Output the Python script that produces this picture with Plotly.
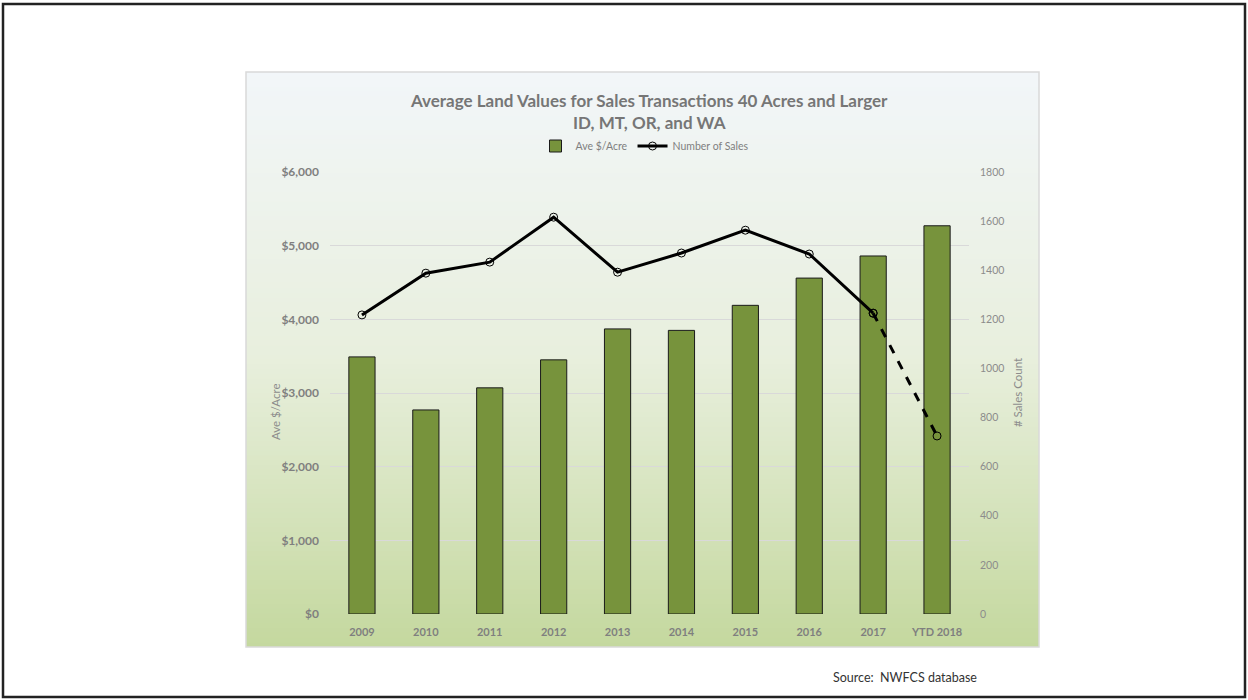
import plotly.graph_objects as go

# ---- data -------------------------------------------------------------
years = ["2009", "2010", "2011", "2012", "2013", "2014", "2015", "2016", "2017", "YTD 2018"]
ave_per_acre = [3490, 2770, 3070, 3450, 3870, 3850, 4190, 4560, 4860, 5270]
number_of_sales = [1218, 1388, 1433, 1616, 1392, 1470, 1563, 1466, 1225, 725]

left_ticks = [0, 1000, 2000, 3000, 4000, 5000, 6000]
left_tick_text = ["$0", "$1,000", "$2,000", "$3,000", "$4,000", "$5,000", "$6,000"]
right_ticks = list(range(0, 1801, 200))

# ---- page geometry (pixels) ---------------------------------------------
W, H = 1248, 700
PL, PR, PT, PB = 330, 969, 172, 614  # plot area edges


def px(x):
    return (x - PL) / (PR - PL)


def py(y):
    return (PB - y) / (PB - PT)


FONT = "Lato, 'Open Sans', sans-serif"
GREY = "#7f7f7f"

fig = go.Figure()

fig.add_trace(go.Bar(
    x=years, y=ave_per_acre, name="Ave $/Acre",
    marker=dict(color="#77933c", line=dict(color="#1a1a1a", width=1)),
    yaxis="y",
))

# solid line for full years
fig.add_trace(go.Scatter(
    x=years[:-1], y=number_of_sales[:-1], name="Number of Sales",
    mode="lines+markers",
    line=dict(color="black", width=3),
    marker=dict(symbol="circle-open", size=8, color="black", line=dict(width=1)),
    yaxis="y2",
))
# dashed segment into the year-to-date value
fig.add_trace(go.Scatter(
    x=years[-2:], y=number_of_sales[-2:], name="Number of Sales",
    mode="lines+markers", showlegend=False,
    line=dict(color="black", width=3, dash="dash"),
    marker=dict(symbol="circle-open", size=8, color="black", line=dict(width=1)),
    yaxis="y2",
))

# ---- background gradient of the chart panel ------------------------------
def lerp(c1, c2, t):
    return tuple(round(a + (b - a) * t) for a, b in zip(c1, c2))


stops = [(0.0, (242, 246, 249)), (0.5, (232, 239, 221)), (1.0, (196, 216, 158))]


def grad(t):
    for (t0, c0), (t1, c1) in zip(stops[:-1], stops[1:]):
        if t <= t1:
            return lerp(c0, c1, (t - t0) / (t1 - t0))
    return stops[-1][1]


shapes = []
cx0, cx1, cy0, cy1 = 246, 1039, 72, 647
n = 120
for i in range(n):
    ya = cy0 + (cy1 - cy0) * i / n
    yb = cy0 + (cy1 - cy0) * (i + 1) / n + 0.8
    r, g, b = grad((i + 0.5) / n)
    shapes.append(dict(
        type="rect", xref="paper", yref="paper", layer="below",
        x0=px(cx0), x1=px(cx1), y0=py(min(yb, cy1)), y1=py(ya),
        fillcolor=f"rgb({r},{g},{b})", line=dict(width=0),
    ))
# panel border
shapes.append(dict(
    type="rect", xref="paper", yref="paper", layer="below",
    x0=px(cx0), x1=px(cx1), y0=py(cy1), y1=py(cy0),
    line=dict(color="#d9d9d9", width=1.5), fillcolor="rgba(0,0,0,0)",
))
# outer page frame
shapes.append(dict(
    type="rect", xref="paper", yref="paper",
    x0=px(3), x1=px(1245), y0=py(697), y1=py(4),
    line=dict(color="#222222", width=2.5), fillcolor="rgba(0,0,0,0)",
))

annotations = [
    dict(text="<b>Average Land Values for Sales Transactions 40 Acres and Larger<br>ID, MT, OR, and WA</b>",
         xref="paper", yref="paper", x=px(649), y=py(111), xanchor="center", yanchor="middle",
         showarrow=False, font=dict(family=FONT, size=17, color="#767676"), align="center"),
    dict(text="Ave $/Acre", xref="paper", yref="paper", x=px(275), y=py(412),
         textangle=-90, showarrow=False, xanchor="center", yanchor="middle",
         font=dict(family=FONT, size=11.5, color="#8c8c8c")),
    dict(text="# Sales Count", xref="paper", yref="paper", x=px(1017), y=py(393),
         textangle=-90, showarrow=False, xanchor="center", yanchor="middle",
         font=dict(family=FONT, size=11.5, color="#8c8c8c")),
    dict(text="Source:  NWFCS database", xref="paper", yref="paper", x=px(831), y=py(677),
         showarrow=False, xanchor="left", yanchor="middle",
         font=dict(family=FONT, size=12.5, color="#333333")),
]

fig.update_layout(
    width=W, height=H,
    margin=dict(l=PL, r=W - PR, t=PT, b=H - PB, pad=0, autoexpand=False),
    paper_bgcolor="white", plot_bgcolor="rgba(0,0,0,0)",
    bargap=0.59,
    shapes=shapes, annotations=annotations,
    font=dict(family=FONT, color=GREY),
    legend=dict(orientation="h", x=px(645), y=py(146), xanchor="center", yanchor="middle",
                font=dict(family=FONT, size=10.5, color=GREY), bgcolor="rgba(0,0,0,0)",
                itemwidth=30, traceorder="normal"),
    xaxis=dict(type="category", range=[-0.5, len(years) - 0.5],
               showgrid=False, showline=False, ticks="", automargin=False,
               tickfont=dict(family=FONT, size=11, color=GREY, weight="bold"),
               ticklabelstandoff=10),
    yaxis=dict(range=[0, 6000], tickvals=left_ticks, ticktext=left_tick_text,
               showgrid=True, gridcolor="#d9d9d9", gridwidth=1, zeroline=False,
               showline=False, ticks="", ticklabelstandoff=10, automargin=False,
               tickfont=dict(family=FONT, size=12, color=GREY, weight="bold")),
    yaxis2=dict(range=[0, 1800], tickvals=right_ticks, overlaying="y", side="right",
                showgrid=False, zeroline=False, showline=False, ticks="",
                ticklabelstandoff=10, automargin=False,
                tickfont=dict(family=FONT, size=10.5, color="#8c8c8c")),
)

fig.write_html("out.html")
